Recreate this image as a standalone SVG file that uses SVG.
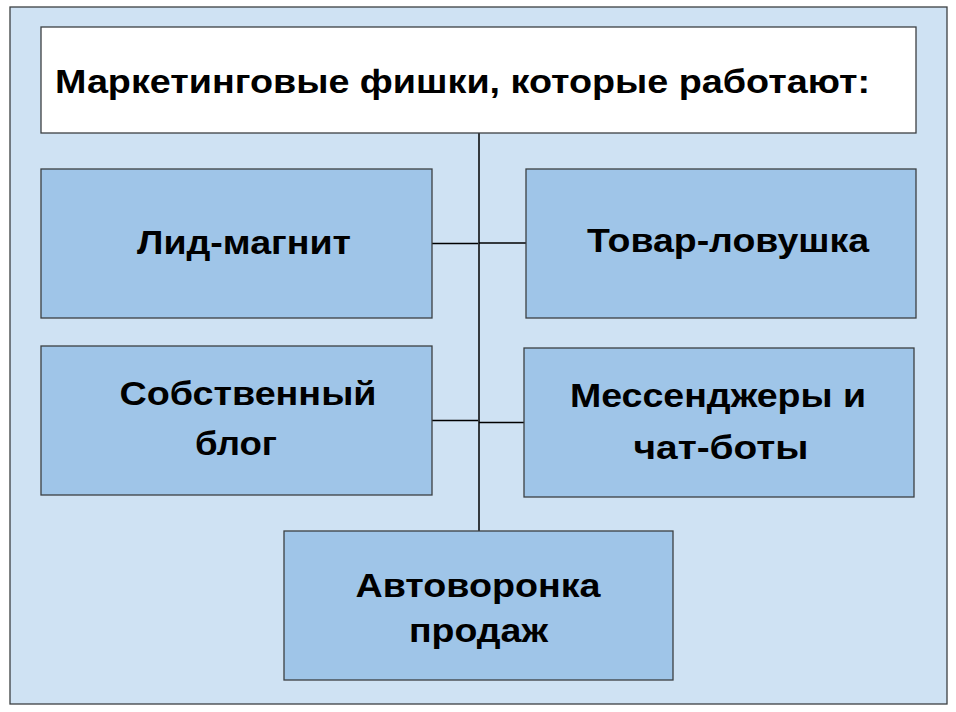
<svg xmlns="http://www.w3.org/2000/svg" width="956" height="712" viewBox="0 0 956 712">
<style>
.box{fill:#9fc5e8;stroke:#3c4043;stroke-width:1.3}
.t{font-family:"Liberation Sans",Arial,sans-serif;font-weight:bold;font-size:33px;fill:#000;text-anchor:middle}
.c{stroke:#000;stroke-width:1.5;fill:none}
</style>
<rect x="0" y="0" width="956" height="712" fill="#fff"/>
<rect id="background" x="10" y="7" width="937" height="697" fill="#cfe2f3" stroke="#3c4043" stroke-width="1.3"/>
<g id="connectors">
<line class="c" x1="479" y1="133" x2="479" y2="531"/>
<line class="c" x1="432" y1="243.5" x2="478" y2="243.5"/>
<line class="c" x1="479" y1="243" x2="526" y2="243"/>
<line class="c" x1="432" y1="420.5" x2="478" y2="420.5"/>
<line class="c" x1="479" y1="422.5" x2="524" y2="422.5"/>
</g>
<g id="title">
<rect x="41" y="27" width="875" height="106" fill="#fff" stroke="#3c4043" stroke-width="1.3"/>
<text class="t" x="55" y="93" style="text-anchor:start;font-size:34px" textLength="815" lengthAdjust="spacingAndGlyphs">Маркетинговые фишки, которые работают:</text>
</g>
<g id="lid-magnit">
<rect class="box" x="41" y="169" width="391" height="149"/>
<text class="t" x="244" y="254" textLength="214" lengthAdjust="spacingAndGlyphs">Лид-магнит</text>
</g>
<g id="tovar-lovushka">
<rect class="box" x="526" y="169" width="390" height="149"/>
<text class="t" x="728" y="252" textLength="282" lengthAdjust="spacingAndGlyphs">Товар-ловушка</text>
</g>
<g id="blog">
<rect class="box" x="41" y="346" width="391" height="149"/>
<text class="t" x="248" y="405" textLength="257" lengthAdjust="spacingAndGlyphs">Собственный</text>
<text class="t" x="236" y="455" textLength="82" lengthAdjust="spacingAndGlyphs">блог</text>
</g>
<g id="messengers">
<rect class="box" x="524" y="348" width="390" height="149"/>
<text class="t" x="718" y="406.5" textLength="296" lengthAdjust="spacingAndGlyphs">Мессенджеры и</text>
<text class="t" x="721" y="459" textLength="175" lengthAdjust="spacingAndGlyphs">чат-боты</text>
</g>
<g id="avtovoronka">
<rect class="box" x="284" y="531" width="389" height="149"/>
<text class="t" x="478" y="597" style="font-size:34px" textLength="245" lengthAdjust="spacingAndGlyphs">Автоворонка</text>
<text class="t" x="478.5" y="641.5" style="font-size:34px" textLength="139" lengthAdjust="spacingAndGlyphs">продаж</text>
</g>
</svg>
